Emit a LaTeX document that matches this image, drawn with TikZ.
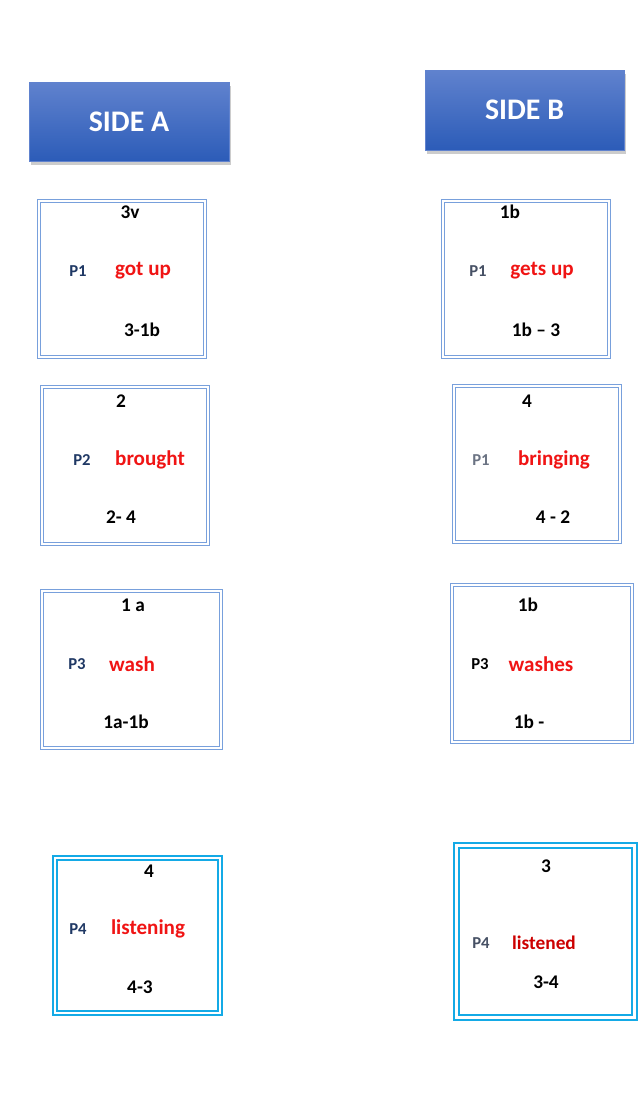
\documentclass[tikz,border=0pt]{standalone}
\usepackage{fontspec}
\setmainfont{Carlito}
\usetikzlibrary{shadows}
\definecolor{headtop}{RGB}{96,130,206}
\definecolor{headbot}{RGB}{44,92,184}
\definecolor{boxline}{RGB}{120,160,220}
\definecolor{cyanline}{RGB}{20,170,230}
\definecolor{pnavy}{RGB}{31,56,100}
\definecolor{pgray}{RGB}{70,80,100}
\definecolor{wordred}{RGB}{240,20,20}
\tikzstyle{header} = [rectangle, draw=headtop, top color=headtop, bottom color=headbot, text=white, font=\bfseries\fontsize{17}{20}\selectfont, drop shadow={opacity=0.4, shadow xshift=1pt, shadow yshift=-2pt}]
\tikzstyle{card} = [rectangle, draw=boxline, double, double distance=1.2pt, line width=0.5pt]
\tikzstyle{cardcyan} = [rectangle, draw=cyanline, double, double distance=1.6pt, line width=1pt]
\tikzstyle{num} = [font=\bfseries\fontsize{11}{13}\selectfont]
\tikzstyle{pid} = [font=\bfseries\fontsize{9.5}{11}\selectfont, text=pnavy]
\tikzstyle{verb} = [font=\bfseries\fontsize{12}{14}\selectfont, text=wordred]
\begin{document}
\begin{tikzpicture}[x=0.02cm, y=-0.02cm]
     \useasboundingbox (0,0) rectangle (640,1105);
     % headers
     \node (sidea) at (129,121.5) [header, minimum width=4cm, minimum height=1.58cm] {SIDE A};
     \node (sideb) at (524.5,110) [header, minimum width=3.98cm, minimum height=1.6cm] {SIDE B};
     % side A
     \node (a1) at (122,279) [card, minimum width=3.32cm, minimum height=3.12cm] {};
     \node (a1top) at (130,212) [num] {3v};
     \node (a1p) at (78,271) [pid] {P1};
     \node (a1w) at (143,271) [verb] {got up};
     \node (a1bot) at (142,330) [num] {3-1b};
     \node (a2) at (125,465.5) [card, minimum width=3.32cm, minimum height=3.14cm] {};
     \node (a2top) at (121,401) [num] {2};
     \node (a2p) at (82,460) [pid] {P2};
     \node (a2w) at (150,460) [verb] {brought};
     \node (a2bot) at (121,517) [num] {2- 4};
     \node (a3) at (131.5,669.5) [card, minimum width=3.58cm, minimum height=3.14cm] {};
     \node (a3top) at (133,605) [num] {1 a};
     \node (a3p) at (77,664) [pid] {P3};
     \node (a3w) at (132,664) [verb] {wash};
     \node (a3bot) at (126,722) [num] {1a-1b};
     \node (a4) at (137.5,935.5) [cardcyan, minimum width=3.3cm, minimum height=3.1cm] {};
     \node (a4top) at (149,871) [num] {4};
     \node (a4p) at (78,929) [pid] {P4};
     \node (a4w) at (148,929) [verb] {listening};
     \node (a4bot) at (140,987) [num] {4-3};
     % side B
     \node (b1) at (526,279) [card, minimum width=3.32cm, minimum height=3.12cm] {};
     \node (b1top) at (510,212) [num] {1b};
     \node (b1p) at (478,271) [pid, text=pgray] {P1};
     \node (b1w) at (542,271) [verb] {gets up};
     \node (b1bot) at (536,330) [num] {1b – 3};
     \node (b2) at (537,464) [card, minimum width=3.32cm, minimum height=3.12cm] {};
     \node (b2top) at (527,401) [num] {4};
     \node (b2p) at (481,460) [pid, text=pgray!80] {P1};
     \node (b2w) at (554,460) [verb] {bringing};
     \node (b2bot) at (553,517) [num] {4 - 2};
     \node (b3) at (542,663.5) [card, minimum width=3.6cm, minimum height=3.14cm] {};
     \node (b3top) at (528,605) [num] {1b};
     \node (b3p) at (480,664) [pid, text=black] {P3};
     \node (b3w) at (541,664) [verb] {washes};
     \node (b3bot) at (529,722) [num] {1b -};
     \node (b4) at (545.5,931.5) [cardcyan, minimum width=3.56cm, minimum height=3.44cm] {};
     \node (b4top) at (546,866) [num] {3};
     \node (b4p) at (481,943) [pid, text=pgray] {P4};
     \node (b4w) at (544,943) [verb, text=red!80!black, font=\bfseries\fontsize{11}{13}\selectfont] {listened};
     \node (b4bot) at (546,982) [num] {3-4};
\end{tikzpicture}
\end{document}
